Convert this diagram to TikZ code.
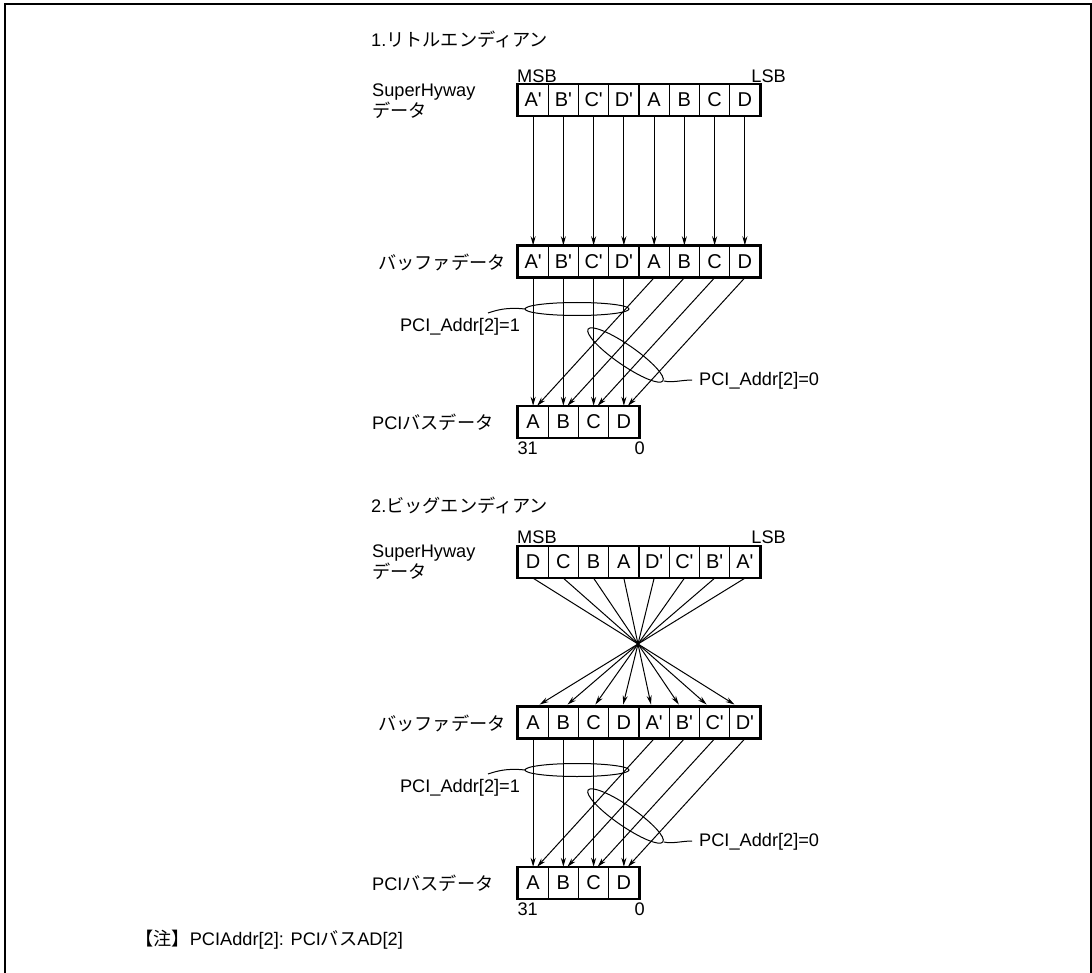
\documentclass[tikz,border=0pt]{standalone}
\usepackage{fontspec}
\setmainfont{Liberation Sans}
\newfontfamily\jp{Noto Sans CJK JP}
\usetikzlibrary{arrows.meta,calc}
\begin{document}
\begin{tikzpicture}[x=1pt,y=-1pt,
  cell/.style={draw,line width=1.4pt,minimum width=30.25pt,minimum height=31pt,inner sep=0pt,font=\fontsize{20}{22}\selectfont},
  lbl/.style={anchor=west,inner sep=0pt,font=\fontsize{18.2}{20}\selectfont},
  arr/.style={line width=1pt,-{Stealth[length=9pt,width=5pt]}},
  ln/.style={line width=1pt},
  outer/.style={draw,line width=2.4pt}]
\useasboundingbox (0,0) rectangle (1092,973);
\draw[line width=2pt] (5,990) -- (5,4.5) -- (1090.5,4.5) -- (1090.5,990);

% ---------- Section 1 ----------
\node[lbl] (t1) at (371,39) {1.{\jp リトルエンディアン}};
\node[lbl] (sh1) at (372,92) {SuperHyway};
\node[lbl] (sd1) at (372,110) {\jp データ};
\node[lbl] (bf1) at (378,262) {\jp バッファデータ};
\node[lbl] (pc1) at (372,422) {PCI{\jp バスデータ}};

\foreach \t [count=\i] in {A\textquotesingle,B\textquotesingle,C\textquotesingle,D\textquotesingle,A,B,C,D}
  \node[cell] (a\i) at ({518+30.25*(\i-0.5)},100) {\t};
\foreach \t [count=\i] in {A\textquotesingle,B\textquotesingle,C\textquotesingle,D\textquotesingle,A,B,C,D}
  \node[cell] (b\i) at ({518+30.25*(\i-0.5)},261.5) {\t};
\foreach \t [count=\i] in {A,B,C,D}
  \node[cell] (p\i) at ({518+30.25*(\i-0.5)},422) {\t};
\draw[outer] (a1.north west) rectangle (a8.south east);
\draw[outer] (b1.north west) rectangle (b8.south east);
\draw[outer] (p1.north west) rectangle (p4.south east);

\node[lbl,anchor=base west] (msb1) at (517,82.5) {MSB};
\node[lbl,anchor=base east] (lsb1) at (786,82.5) {LSB};
\node[lbl,anchor=north west] (n31a) at ($(p1.south west)+(0,3)$) {31};
\node[lbl,anchor=north] (n0a) at ($(p4.south east)+(0,3)$) {0};

\foreach \i in {1,...,8} \draw[arr] (a\i.south) -- (b\i.north);
\foreach \i in {1,...,4} {
  \pgfmathtruncatemacro\j{\i+4}
  \draw[arr] (b\i.south) -- (p\i.north);
  \draw[arr] (b\j.south) -- ($(p\i.north)+(4,0)$);
}

\draw[ln] (577,309) ellipse [x radius=52, y radius=6.5];
\coordinate (e1l) at (525,309);
\draw[ln] (e1l) .. controls (507,307) and (497,310) .. (488,313);
\node[lbl,anchor=center] (pa1) at (460,327) {PCI\_Addr[2]=1};

\draw[ln,rotate around={-34.7:(625.5,355)}] (625.5,355) ellipse [x radius=45.5, y radius=10];
\coordinate (e2r) at (664,381);
\draw[ln] (e2r) .. controls (672,383) and (682,380) .. (692,380);
\node[lbl] (pa0) at (699,381) {PCI\_Addr[2]=0};

% ---------- Section 2 ----------
\node[lbl] (t2) at (371,505) {2.{\jp ビッグエンディアン}};
\node[lbl] (sh2) at (372,553) {SuperHyway};
\node[lbl] (sd2) at (372,571) {\jp データ};
\node[lbl] (bf2) at (378,723) {\jp バッファデータ};
\node[lbl] (pc2) at (372,883) {PCI{\jp バスデータ}};

\foreach \t [count=\i] in {D,C,B,A,D\textquotesingle,C\textquotesingle,B\textquotesingle,A\textquotesingle}
  \node[cell] (c\i) at ({518+30.25*(\i-0.5)},562) {\t};
\foreach \t [count=\i] in {A,B,C,D,A\textquotesingle,B\textquotesingle,C\textquotesingle,D\textquotesingle}
  \node[cell] (d\i) at ({518+30.25*(\i-0.5)},722.5) {\t};
\foreach \t [count=\i] in {A,B,C,D}
  \node[cell] (q\i) at ({518+30.25*(\i-0.5)},883) {\t};
\draw[outer] (c1.north west) rectangle (c8.south east);
\draw[outer] (d1.north west) rectangle (d8.south east);
\draw[outer] (q1.north west) rectangle (q4.south east);

\node[lbl,anchor=base west] (msb2) at (517,543.5) {MSB};
\node[lbl,anchor=base east] (lsb2) at (786,543.5) {LSB};
\node[lbl,anchor=north west] (n31b) at ($(q1.south west)+(0,3)$) {31};
\node[lbl,anchor=north] (n0b) at ($(q4.south east)+(0,3)$) {0};

\coordinate (X) at (638,644);
\foreach \i in {1,...,8} \draw[arr] (c\i.south) -- ($(c\i.south)!1.92!(X)$);
\foreach \i in {1,...,4} {
  \pgfmathtruncatemacro\j{\i+4}
  \draw[arr] (d\i.south) -- (q\i.north);
  \draw[arr] (d\j.south) -- ($(q\i.north)+(4,0)$);
}

\draw[ln] (577,770) ellipse [x radius=52, y radius=6.5];
\coordinate (e3l) at (525,770);
\draw[ln] (e3l) .. controls (507,768) and (497,771) .. (488,774);
\node[lbl,anchor=center] (pa3) at (460,788) {PCI\_Addr[2]=1};

\draw[ln,rotate around={-34.7:(625.5,816)}] (625.5,816) ellipse [x radius=45.5, y radius=10];
\coordinate (e4r) at (664,842);
\draw[ln] (e4r) .. controls (672,844) and (682,841) .. (692,841);
\node[lbl] (pa4) at (699,842) {PCI\_Addr[2]=0};

\node[lbl] (note) at (135,940) {{\jp 【注】}PCIAddr[2]: PCI{\jp バス}AD[2]};
\end{tikzpicture}
\end{document}
